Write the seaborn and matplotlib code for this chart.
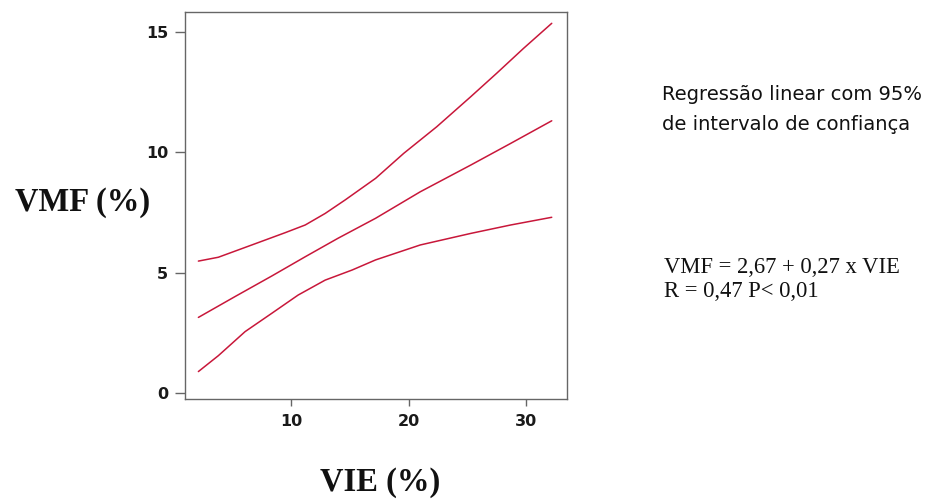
import numpy as np
import pandas as pd
import matplotlib
matplotlib.use("Agg")
import matplotlib.pyplot as plt
import seaborn as sns

# Data
vie_upper = [2.1, 3.8, 6.65, 9.49, 11.2, 12.9, 14.6, 17.2, 19.6, 22.4, 25.3, 27.5, 29.8, 32.2]
vmf_upper = [5.48, 5.64, 6.15, 6.66, 6.98, 7.46, 8.02, 8.92, 9.96, 11.06, 12.31, 13.28, 14.32, 15.36]

vie_fit = [2.1, 5.2, 8.35, 11.2, 14.0, 17.2, 21.0, 25.3, 28.7, 32.2]
vmf_fit = [3.14, 4.0, 4.86, 5.66, 6.43, 7.26, 8.36, 9.47, 10.37, 11.31]

vie_lower = [2.1, 3.8, 6.08, 8.35, 10.6, 12.9, 15.2, 17.2, 21.0, 25.3, 28.7, 32.2]
vmf_lower = [0.89, 1.55, 2.55, 3.31, 4.07, 4.69, 5.11, 5.53, 6.15, 6.63, 6.98, 7.30]

x_ticks = [10, 20, 30]
y_ticks = [0, 5, 10, 15]

df = pd.concat([
    pd.DataFrame({"VIE": vie_upper, "VMF": vmf_upper, "serie": "upper"}),
    pd.DataFrame({"VIE": vie_fit, "VMF": vmf_fit, "serie": "fit"}),
    pd.DataFrame({"VIE": vie_lower, "VMF": vmf_lower, "serie": "lower"}),
])

sns.set_style("white")
plt.rcParams["font.family"] = ["DejaVu Sans"]

W, H = 937, 501
fig = plt.figure(figsize=(W / 100, H / 100), dpi=100)
ax = fig.add_axes([185 / W, 1 - 399 / H, (567 - 185) / W, (399 - 12) / H])

line_color = "#c8173a"
sns.lineplot(data=df, x="VIE", y="VMF", hue="serie",
             palette={"upper": line_color, "fit": line_color, "lower": line_color},
             legend=False, linewidth=1.1, ax=ax, sort=True)

ax.set_xlim(0.96, 33.5)
ax.set_ylim(-0.25, 15.83)
ax.set_xticks(x_ticks)
ax.set_yticks(y_ticks)
ax.set_xticklabels([str(t) for t in x_ticks], fontsize=11.5, fontweight="bold", color="#1a1a1a")
ax.set_yticklabels([str(t) for t in y_ticks], fontsize=11.5, fontweight="bold", color="#1a1a1a")
ax.tick_params(axis="x", direction="out", length=5, width=1, color="#666666",
               bottom=True, pad=6)
ax.tick_params(axis="y", direction="out", length=7, width=1, color="#666666",
               left=True, pad=5)
for s in ax.spines.values():
    s.set_visible(True)
    s.set_color("#666666")
    s.set_linewidth(1.0)
ax.set_xlabel("")
ax.set_ylabel("")

def px(x, y):
    return x / W, 1 - y / H

fig.text(*px(83, 203), "VMF (%)", family="Liberation Serif", fontweight="bold",
         fontsize=23.5, ha="center", va="center", color="#111111")
fig.text(*px(380, 482), "VIE (%)", family="Liberation Serif", fontweight="bold",
         fontsize=23.5, ha="center", va="center", color="#111111")

fig.text(*px(662, 100), "Regressão linear com 95%", fontsize=14,
         ha="left", va="baseline", color="#111111")
fig.text(*px(662, 130), "de intervalo de confiança", fontsize=14,
         ha="left", va="baseline", color="#111111")

fig.text(*px(664, 273), "VMF = 2,67 + 0,27 x VIE", family="Liberation Serif",
         fontsize=16.3, ha="left", va="baseline", color="#111111")
fig.text(*px(664, 297), "R = 0,47 P< 0,01", family="Liberation Serif",
         fontsize=16.3, ha="left", va="baseline", color="#111111")

fig.savefig("out.png", dpi=100)
